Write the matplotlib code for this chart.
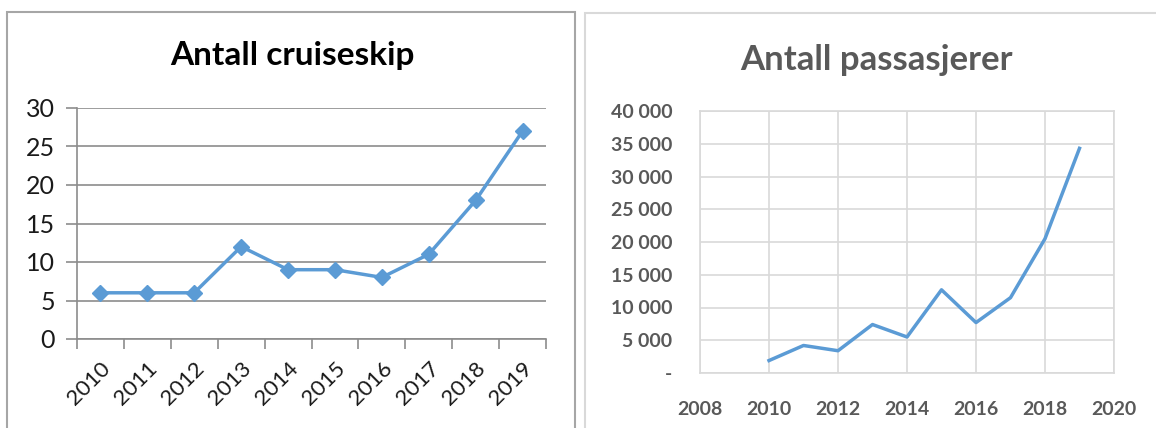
import matplotlib
matplotlib.use("Agg")
import matplotlib.pyplot as plt
from matplotlib.patches import Rectangle
from matplotlib.ticker import FixedLocator, FuncFormatter

# ---- data ----
years = [2010, 2011, 2012, 2013, 2014, 2015, 2016, 2017, 2018, 2019]
year_labels = [str(y) for y in years]
ships = [6, 6, 6, 12, 9, 9, 8, 11, 18, 27]
passengers = [1900, 4200, 3400, 7400, 5500, 12700, 7700, 11500, 20500, 34300]
left_title = "Antall cruiseskip"
right_title = "Antall passasjerer"
ship_yticks = [0, 5, 10, 15, 20, 25, 30]
pass_yticks = [0, 5000, 10000, 15000, 20000, 25000, 30000, 35000, 40000]
pass_xticks = [2008, 2010, 2012, 2014, 2016, 2018, 2020]

W, H = 1156, 428
LINE = "#5B9BD5"
FONT = "Lato"

fig = plt.figure(figsize=(W / 100, H / 100), dpi=100)
fig.patch.set_facecolor("white")

# panel borders
fig.add_artist(Rectangle((7 / W, -0.05), (575 - 7) / W, (428 - 12) / H + 0.05,
                         transform=fig.transFigure, fill=False,
                         edgecolor="#a6a6a6", linewidth=1.5))
fig.add_artist(Rectangle((585 / W, -0.05), (1170 - 585) / W, (428 - 13) / H + 0.05,
                         transform=fig.transFigure, fill=False,
                         edgecolor="#d9d9d9", linewidth=1.5))

# ---- left chart ----
ax1 = fig.add_axes([77 / W, 1 - 339 / H, (546 - 77) / W, (339 - 108) / H])
n = len(years)
xpos = list(range(n))
ax1.plot(xpos, ships, color=LINE, linewidth=2.5, marker="D", markersize=8,
         markerfacecolor=LINE, markeredgecolor=LINE)
ax1.set_xlim(-0.5, n - 0.5)
ax1.set_ylim(0, 30)
ax1.set_yticks(ship_yticks)
ax1.set_yticklabels([str(v) for v in ship_yticks], fontsize=18, family=FONT,
                    color="#1a1a1a")
ax1.yaxis.grid(True, color="#8c8c8c", linewidth=1.2)
ax1.set_axisbelow(True)
ax1.set_xticks(xpos)
ax1.set_xticklabels(year_labels, rotation=45, ha="right", va="top",
                    rotation_mode="anchor", fontsize=16, family=FONT,
                    color="#1a1a1a")
ax1.xaxis.set_minor_locator(FixedLocator([i - 0.5 for i in range(n + 1)]))
ax1.tick_params(axis="x", which="major", length=0, pad=14)
ax1.tick_params(axis="x", which="minor", length=7, color="#8c8c8c", width=1.2,
                direction="out")
ax1.tick_params(axis="y", length=8, color="#8c8c8c", width=1.2, pad=8)
for s in ["top", "right"]:
    ax1.spines[s].set_visible(False)
for s in ["left", "bottom"]:
    ax1.spines[s].set_color("#8c8c8c")
    ax1.spines[s].set_linewidth(1.2)
fig.text(292 / W, 1 - 55 / H, left_title, ha="center", va="center",
         fontsize=24, fontweight="bold", family=FONT, color="black")

# ---- right chart ----
ax2 = fig.add_axes([700 / W, 1 - 373 / H, (1114 - 700) / W, (373 - 111) / H])
ax2.plot(years, passengers, color=LINE, linewidth=2.5)
ax2.set_xlim(2008, 2020)
ax2.set_ylim(0, 40000)
ax2.set_xticks(pass_xticks)
ax2.set_yticks(pass_yticks)


def fmt(v, pos):
    if v == 0:
        return "-"
    return f"{int(v):,}".replace(",", " ")


ax2.yaxis.set_major_formatter(FuncFormatter(fmt))
ax2.grid(True, color="#d9d9d9", linewidth=1.2)
ax2.set_axisbelow(True)
for s in ax2.spines.values():
    s.set_color("#d9d9d9")
    s.set_linewidth(1.2)
ax2.tick_params(length=0)
ax2.tick_params(axis="y", pad=20)
ax2.tick_params(axis="x", pad=20)
for lab in ax2.get_yticklabels() + ax2.get_xticklabels():
    lab.set_fontsize(14)
    lab.set_fontweight("bold")
    lab.set_family(FONT)
    lab.set_color("#595959")
fig.text(876 / W, 1 - 60 / H, right_title, ha="center", va="center",
         fontsize=25, fontweight="bold", family=FONT, color="#595959")

fig.savefig("out.png", dpi=100)
